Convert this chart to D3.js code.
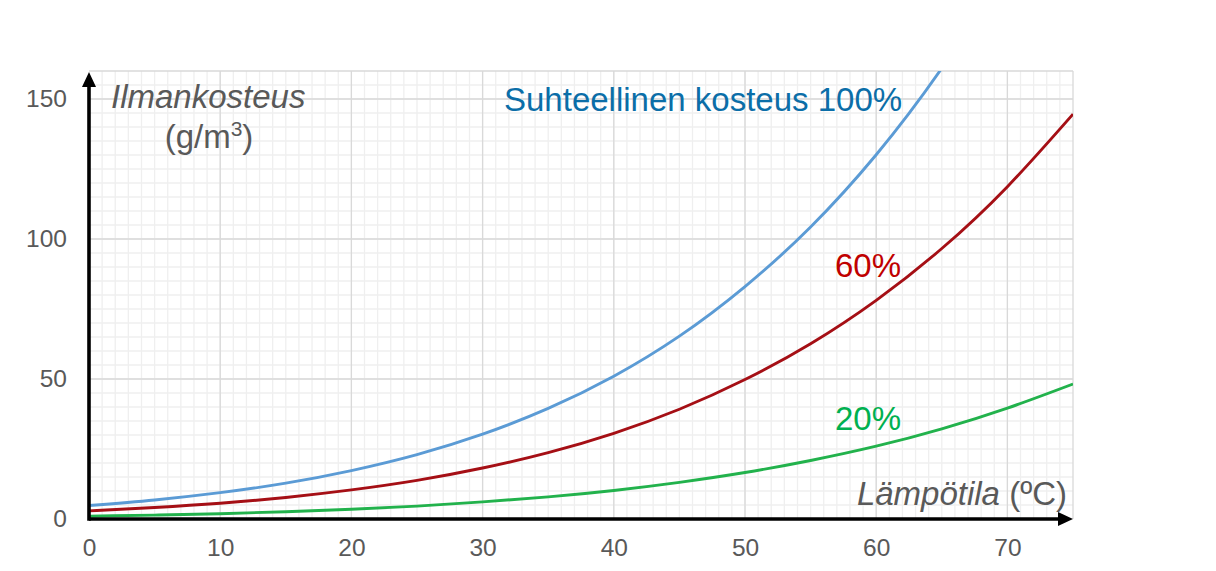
<!DOCTYPE html>
<html lang="fi">
<head>
  <meta charset="UTF-8">
  <title>Ilmankosteus ja lämpötila</title>
  <style>
    body { margin: 0; background: #fff; }
    svg { display: block; }
    text { font-family: "Liberation Sans", Arial, sans-serif; }
  </style>
</head>
<body>
  <svg width="1216" height="571"></svg>

  <script src="https://d3js.org/d3.v7.min.js"></script>
  <script>
    // lämpötila (°C)
    const temps = [0, 5, 10, 15, 20, 25, 30, 35, 40, 45, 50, 55, 60, 65, 70, 75];
    // ilmankosteus (g/m3) eri suhteellisilla kosteuksilla
    const rh100 = [4.8, 6.8, 9.4, 12.8, 17.3, 23.0, 30.3, 39.5, 51.0, 65.3, 83.0, 104.3, 130.1, 161.0, 198.0, 241.0];
    const rh60 = [2.9, 4.1, 5.6, 7.7, 10.4, 13.8, 18.2, 23.7, 30.6, 39.2, 49.8, 62.6, 78.1, 96.6, 118.7, 144.6];
    const rh20 = [1.0, 1.4, 1.9, 2.6, 3.5, 4.6, 6.1, 7.9, 10.2, 13.1, 16.6, 20.9, 26.0, 32.2, 39.6, 48.2];
    const xTicks = [0, 10, 20, 30, 40, 50, 60, 70];
    const yTicks = [0, 50, 100, 150];

    const series = [
      { name: "100%", values: rh100, color: "#5b9bd5" },
      { name: "60%", values: rh60, color: "#a50f15" },
      { name: "20%", values: rh20, color: "#22b24c" }
    ];

    const svg = d3.select("svg");

    const x = d3.scaleLinear().domain([0, 75]).range([89, 1073]);
    const y = d3.scaleLinear().domain([0, 160]).range([519, 71]);

    // ruudukko
    const grid = svg.append("g");
    grid.selectAll(".minx")
      .data(d3.range(1, 75))
      .enter().append("line")
      .attr("x1", d => x(d)).attr("x2", d => x(d))
      .attr("y1", y(0)).attr("y2", y(160))
      .attr("stroke", "#efefef").attr("stroke-width", 1.3);
    grid.selectAll(".miny")
      .data(d3.range(5, 160, 5))
      .enter().append("line")
      .attr("x1", x(0)).attr("x2", x(75))
      .attr("y1", d => y(d)).attr("y2", d => y(d))
      .attr("stroke", "#efefef").attr("stroke-width", 1.3);
    grid.selectAll(".majx")
      .data([10, 20, 30, 40, 50, 60, 70, 75])
      .enter().append("line")
      .attr("x1", d => x(d)).attr("x2", d => x(d))
      .attr("y1", y(0)).attr("y2", y(160))
      .attr("stroke", "#d9d9d9").attr("stroke-width", 1.3);
    grid.selectAll(".majy")
      .data([50, 100, 150, 160])
      .enter().append("line")
      .attr("x1", x(0)).attr("x2", x(75))
      .attr("y1", d => y(d)).attr("y2", d => y(d))
      .attr("stroke", "#d9d9d9").attr("stroke-width", 1.3);

    // käyrät
    svg.append("clipPath").attr("id", "plot")
      .append("rect")
      .attr("x", x(0)).attr("y", y(160))
      .attr("width", x(75) - x(0)).attr("height", y(0) - y(160));

    const line = d3.line()
      .x((d, i) => x(temps[i]))
      .y(d => y(d))
      .curve(d3.curveNatural);

    svg.append("g").attr("clip-path", "url(#plot)")
      .selectAll("path")
      .data(series)
      .enter().append("path")
      .attr("d", d => line(d.values))
      .attr("fill", "none")
      .attr("stroke", d => d.color)
      .attr("stroke-width", 2.9);

    // akselit
    const xAxis = svg.append("g")
      .attr("transform", `translate(0, ${y(0)})`)
      .call(d3.axisBottom(x).tickValues(xTicks).tickSize(0).tickPadding(20));
    const yAxis = svg.append("g")
      .attr("transform", `translate(${x(0)}, 0)`)
      .call(d3.axisLeft(y).tickValues(yTicks).tickSize(0).tickPadding(22));
    [xAxis, yAxis].forEach(a => {
      a.select(".domain").remove();
      a.selectAll("text")
        .attr("fill", "#595959")
        .style("font-size", "24.5px")
        .style("font-family", "'Liberation Sans', Arial, sans-serif");
    });

    svg.append("line")
      .attr("x1", x(0)).attr("x2", x(75) - 12)
      .attr("y1", y(0)).attr("y2", y(0))
      .attr("stroke", "#000").attr("stroke-width", 3.6);
    svg.append("line")
      .attr("x1", x(0)).attr("x2", x(0))
      .attr("y1", y(0) + 1.8).attr("y2", y(160) + 12)
      .attr("stroke", "#000").attr("stroke-width", 3.6);
    svg.append("path")
      .attr("d", `M${x(75)},${y(0)} l-15,-7 l0,14 z`)
      .attr("fill", "#000");
    svg.append("path")
      .attr("d", `M${x(0)},${y(160) + 1} l-7,15 l14,0 z`)
      .attr("fill", "#000");

    // otsikot
    svg.append("text")
      .attr("x", 111).attr("y", 108)
      .attr("fill", "#595959")
      .style("font-size", "33px").style("font-style", "italic")
      .text("Ilmankosteus");
    const unit = svg.append("text")
      .attr("x", 209).attr("y", 148)
      .attr("text-anchor", "middle")
      .attr("fill", "#595959")
      .style("font-size", "33px");
    unit.append("tspan").text("(g/m");
    unit.append("tspan").attr("dy", -12).style("font-size", "21px").text("3");
    unit.append("tspan").attr("dy", 12).text(")");

    const xt = svg.append("text")
      .attr("x", 1067).attr("y", 505)
      .attr("text-anchor", "end")
      .attr("fill", "#595959")
      .style("font-size", "33px");
    xt.append("tspan").style("font-style", "italic").text("Lämpötila");
    xt.append("tspan").text(" (ºC)");

    svg.append("text")
      .attr("x", 504).attr("y", 111)
      .attr("fill", "#0b6ea8")
      .style("font-size", "33px")
      .text("Suhteellinen kosteus 100%");
    svg.append("text")
      .attr("x", 835).attr("y", 277)
      .attr("fill", "#c00000")
      .style("font-size", "33px")
      .text("60%");
    svg.append("text")
      .attr("x", 835).attr("y", 430)
      .attr("fill", "#00b050")
      .style("font-size", "33px")
      .text("20%");
  </script>
</body>
</html>
